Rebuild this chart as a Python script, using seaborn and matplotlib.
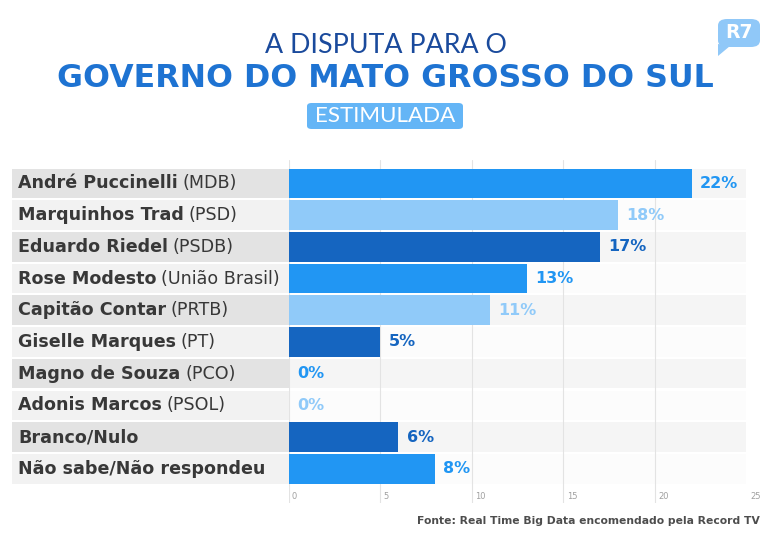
import matplotlib
matplotlib.use("Agg")
import matplotlib.pyplot as plt
import matplotlib.transforms as mtransforms
from matplotlib.patches import Rectangle, FancyBboxPatch, Polygon
import seaborn as sns
import pandas as pd

# ---- data ----
names = ["André Puccinelli", "Marquinhos Trad", "Eduardo Riedel", "Rose Modesto",
         "Capitão Contar", "Giselle Marques", "Magno de Souza", "Adonis Marcos",
         "Branco/Nulo", "Não sabe/Não respondeu"]
parties = ["(MDB)", "(PSD)", "(PSDB)", "(União Brasil)", "(PRTB)", "(PT)", "(PCO)",
           "(PSOL)", "", ""]
values = [22, 18, 17, 13, 11, 5, 0, 0, 6, 8]
value_labels = ["22%", "18%", "17%", "13%", "11%", "5%", "0%", "0%", "6%", "8%"]
x_ticks = [0, 5, 10, 15, 20, 25]
x_tick_labels = ["0", "5", "10", "15", "20", "25"]
title_top = "A DISPUTA PARA O"
title_main = "GOVERNO DO MATO GROSSO DO SUL"
subtitle = "ESTIMULADA"
source = "Fonte: Real Time Big Data encomendado pela Record TV"

# ---- style ----
MID, LIGHT, DARK = "#2196f3", "#90caf9", "#1565c0"
bar_colors = [MID, LIGHT, DARK] * 3 + [MID]

sns.set_theme(style="white")
plt.rcParams["font.family"] = ["DejaVu Sans"]

W, H = 770, 540
fig = plt.figure(figsize=(W / 100, H / 100), dpi=100)
fig.patch.set_facecolor("white")

def fx(px):
    return px / W

def fy(py):
    return 1 - py / H

ax_l, ax_r, ax_t, ax_b = 288.5, 746.5, 160, 502.7
ax = fig.add_axes([fx(ax_l), fy(ax_b), fx(ax_r - ax_l), (ax_b - ax_t) / H])

labels = [f"{n} {p}".strip() for n, p in zip(names, parties)]
df = pd.DataFrame({"label": labels, "value": values})
palette = dict(zip(labels, bar_colors))

BAR_W = 0.93
sns.barplot(data=df, y="label", x="value", hue="label", palette=palette,
            order=labels, hue_order=labels, orient="h", width=BAR_W,
            saturation=1, legend=False, linewidth=0, ax=ax, zorder=2)

ax.set_xlim(0, 25)
ax.set_ylim(10.063, -0.734)
ax.set_xlabel("")
ax.set_ylabel("")
ax.set_yticks([])
for s in ax.spines.values():
    s.set_visible(False)
ax.set_facecolor("white")

# grid
ax.set_xticks(x_ticks)
ax.set_xticklabels(x_tick_labels, ha="left")
ax.tick_params(axis="x", length=0, pad=-7.5, labelsize=6, labelcolor="#a0a0a0")
offset = mtransforms.ScaledTranslation(3.5 / 100, 0, fig.dpi_scale_trans)
for lab in ax.get_xticklabels():
    lab.set_transform(lab.get_transform() + offset)
ax.grid(axis="x", color="#e3e3e3", lw=0.8, zorder=0.5)
ax.set_axisbelow(True)

blend = mtransforms.blended_transform_factory(ax.transAxes, ax.transData)
axw = ax_r - ax_l
lab_x0 = (12 - ax_l) / axw

NAME_FS = 12.6
for i in range(len(labels)):
    band = "#f5f5f5" if i % 2 == 0 else "#fcfcfc"
    ax.axhspan(i - BAR_W / 2, i + BAR_W / 2, color=band, lw=0, zorder=0.2)
    lbg = "#e3e3e3" if i % 2 == 0 else "#f2f2f2"
    ax.add_patch(Rectangle((lab_x0, i - BAR_W / 2), -lab_x0, BAR_W, transform=blend,
                           color=lbg, lw=0, clip_on=False, zorder=0.2))
    t = ax.text((18 - ax_l) / axw, i, names[i], transform=blend, ha="left",
                va="center", fontsize=NAME_FS, fontweight="bold", color="#383838")
    if parties[i]:
        ax.annotate(parties[i], xy=(1, 0), xycoords=t, xytext=(3.5, 0),
                    textcoords="offset points", ha="left", va="bottom",
                    fontsize=NAME_FS, color="#383838")

# value labels
for i, (v, vl) in enumerate(zip(values, value_labels)):
    ax.annotate(vl, xy=(v, i), xytext=(6, 0), textcoords="offset points",
                ha="left", va="center", fontsize=11.5, fontweight="bold",
                color=bar_colors[i])

# ---- titles ----
renderer = fig.canvas.get_renderer()

def fit(t, target_px):
    w = t.get_window_extent(renderer).width
    t.set_fontsize(t.get_fontsize() * target_px / w)

t1 = fig.text(fx(386), fy(53), title_top, ha="center", va="baseline",
              fontsize=16, color="#1a4a9c", family=["Lato", "DejaVu Sans"],
              fontweight="normal")
fit(t1, 242)
t2 = fig.text(fx(385), fy(87), title_main, ha="center", va="baseline",
              fontsize=22, color="#1e73d2", fontweight="heavy")
fit(t2, 654)

box = FancyBboxPatch((fx(307), fy(129)), fx(463 - 307), (129 - 103) / H,
                     boxstyle="round,pad=0,rounding_size=0.006",
                     transform=fig.transFigure, facecolor="#64b5f6", lw=0)
fig.patches.append(box)
t3 = fig.text(fx(385), fy(116.5), subtitle, ha="center", va="center",
              fontsize=12, color="white", family=["Lato", "DejaVu Sans"])
fit(t3, 140)

# R7 logo
logo = FancyBboxPatch((fx(718), fy(47)), fx(42), 28 / H,
                      boxstyle="round,pad=0,rounding_size=0.012",
                      transform=fig.transFigure, facecolor="#90c8f8", lw=0)
fig.patches.append(logo)
tail = Polygon([(fx(718), fy(44)), (fx(718), fy(56)), (fx(730), fy(46))],
               closed=True, transform=fig.transFigure, facecolor="#90c8f8", lw=0)
fig.patches.append(tail)
fig.text(fx(739), fy(33), "R7", ha="center", va="center", fontsize=13.5,
         fontweight="heavy", color="white")

ts = fig.text(fx(760), fy(521), source, ha="right", va="center", fontsize=8,
              fontweight="bold", color="#4d4d4d")
fit(ts, 339)

fig.savefig("out.png", dpi=100)
